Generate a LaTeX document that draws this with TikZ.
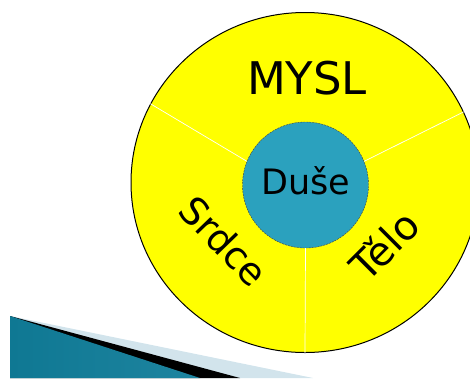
\documentclass[tikz,border=0pt]{standalone}
\usepackage{fontspec}
\setmainfont{DejaVu Sans}
\usetikzlibrary{shapes,positioning}
\usepackage{xcolor}

\definecolor{wheelyellow}{RGB}{255,255,0}
\definecolor{soulblue}{HTML}{2BA1BE}
\definecolor{decodark}{HTML}{0F7893}
\definecolor{decolight}{HTML}{58B6D2}
\definecolor{decopale}{HTML}{D2E4EC}

\begin{document}
\begin{tikzpicture}[x=1pt,y=-1pt]
    \useasboundingbox (0,0) rectangle (470,378);

    % slide decoration, bottom left
    \fill[decopale] (10,316) -- (313,378) -- (10,378) -- cycle;
    \fill[black] (10,316) -- (240,378) -- (10,378) -- cycle;
    \shade[left color=decodark, middle color=decolight, right color=decodark!80!decolight] (10,316) -- (200,378) -- (10,378) -- cycle;

    \node[draw, ellipse, fill=wheelyellow, line width=1pt, minimum width=348, minimum height=340, inner sep=0] (wheel) at (305,182.5) {};
    \node[draw=black!75, circle, dashed, dash pattern=on 2pt off 1pt, fill=soulblue, minimum size=126, inner sep=0] (duse) at (305.5,185) {};

    \draw[white, line width=0.7pt] (duse.158) -- (wheel.153);
    \draw[white, line width=0.7pt] (duse.22) -- (wheel.24);
    \draw[white, line width=0.7pt] (duse.270) -- (wheel.270);

    \node[anchor=base, font=\fontsize{45}{50}\selectfont] (mysl) at (307,94) {MYSL};
    \node[anchor=base, font=\fontsize{35}{40}\selectfont] (duselabel) at (305.5,194) {Duše};
    \node[rotate=-46, font=\fontsize{38}{44}\selectfont] (srdce) at (224,241) {Srdce};
    \node[rotate=45, font=\fontsize{40}{44}\selectfont] (telo) at (384,245) {Tělo};
\end{tikzpicture}
\end{document}
